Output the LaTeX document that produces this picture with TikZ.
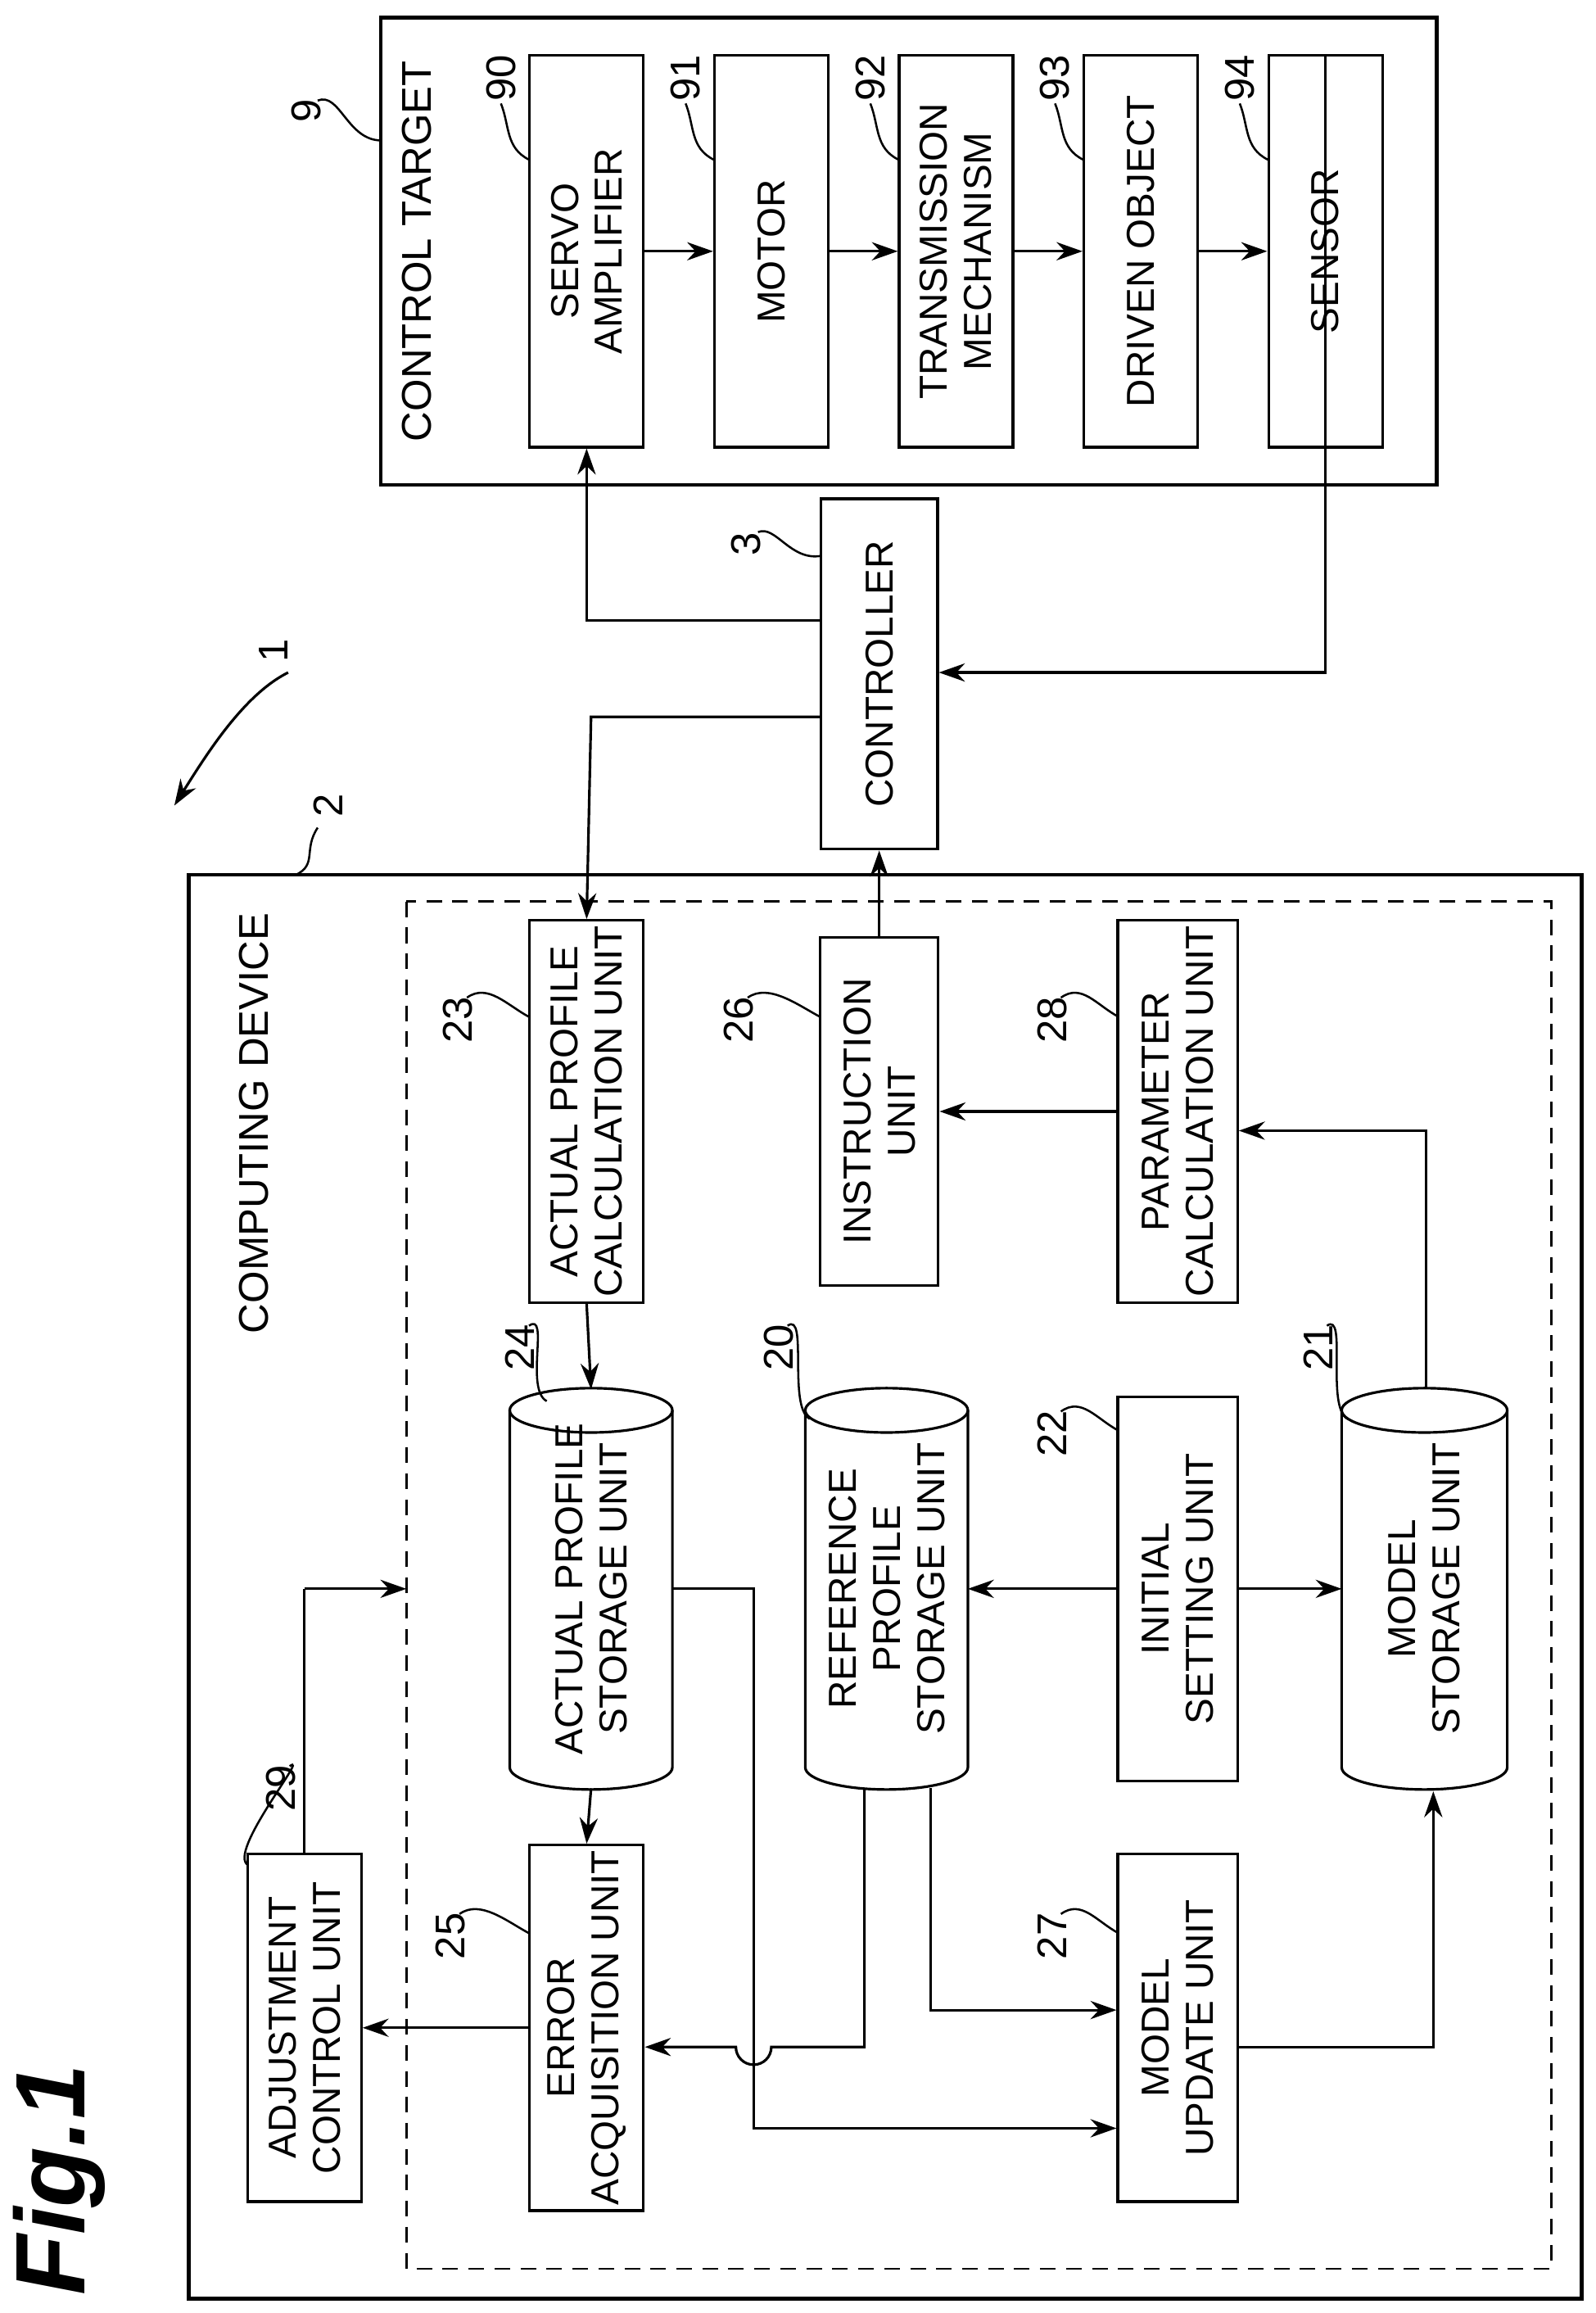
\documentclass[tikz,border=0pt]{standalone}
\usepackage{fontspec}
\setmainfont{Liberation Sans}
\usetikzlibrary{arrows.meta}
\newcommand\mycyl[6]{% name, xc, yc, w(cm), h(cm), text
 \node[rotate=90,align=center,font=\fontsize{7.5}{8.5}\selectfont,minimum width=#5cm,minimum height=#4cm,inner sep=0pt] (#1) at (#2,#3) {#6};
 \draw[line width=0.5pt] ([yshift=-0.15cm]#1.east) ellipse [x radius=#4cm/2,y radius=0.15cm];
 \draw[line width=0.5pt] ([xshift=-#4cm/2,yshift=-0.15cm]#1.east) -- ([xshift=-#4cm/2,yshift=0.15cm]#1.west)
   arc[start angle=180,end angle=360,x radius=#4cm/2,y radius=0.15cm] -- ([xshift=#4cm/2,yshift=-0.15cm]#1.east);
}
\begin{document}
\begin{tikzpicture}[x=0.01cm,y=-0.01cm,
 box/.style={draw,rotate=90,align=center,font=\fontsize{7.5}{8.5}\selectfont,inner sep=1pt,line width=0.5pt},
 lab/.style={rotate=90,font=\fontsize{8}{9}\selectfont},
 ar/.style={-{Stealth[length=5pt,width=3.5pt]},line width=0.5pt},
 ln/.style={line width=0.5pt},
 lead/.style={line width=0.4pt}]
\useasboundingbox (0,0) rectangle (1080,1565);
% Fig label
\node[rotate=90,font=\bfseries\itshape\fontsize{19}{21}\selectfont] (fig) at (40,1475) {Fig.1};
% system label 1
\node[lab] (l1) at (185,440) {1};
\coordinate (l1e) at (118,545);
\draw[ar] (195,455) .. controls (165,470) and (140,510) .. (l1e);
% computing device
\node[draw,line width=0.7pt,minimum width=9.42cm,minimum height=9.63cm] (cd) at (599,1073.5) {};
\node[rotate=90,font=\fontsize{8}{9}\selectfont] (cdt) at (172,760) {COMPUTING DEVICE};
\node[lab] (l2) at (222,545) {2};
\draw[lead] (215,560) .. controls (205,575) and (215,585) .. (200,592);
\draw[dash pattern=on 3pt off 2pt,line width=0.4pt] (275,610) rectangle (1050,1535);
% control target
\node[draw,line width=0.7pt,minimum width=7.14cm,minimum height=3.16cm] (ct) at (615,170) {};
\node[rotate=90,font=\fontsize{8}{9}\selectfont] (ctt) at (282,170) {CONTROL TARGET};
\node[lab] (l9) at (207,75) {9};
\draw[lead] (215,68) .. controls (230,62) and (235,95) .. (258,95);
% inner boxes
\foreach \n/\x/\t/\num in {sa/397/{SERVO\\AMPLIFIER}/90, mo/522/{MOTOR}/91, tm/647/{TRANSMISSION\\MECHANISM}/92, dr/772/{DRIVEN OBJECT}/93, se/897/{SENSOR}/94}{
 \node[box,minimum width=2.65cm,minimum height=0.77cm] (\n) at (\x,170) {\t};
 \node[lab] (l\num) at (\x-58,53) {\num};
 \draw[lead] (\x-58,70) .. controls (\x-52,85) and (\x-55,100) .. (\x-39,108);
}
\draw[ar] (sa) -- (mo); \draw[ar] (mo) -- (tm); \draw[ar] (tm) -- (dr); \draw[ar] (dr) -- (se);
% controller
\node[box,minimum width=2.37cm,minimum height=0.79cm] (ctl) at (595,456) {CONTROLLER};
\node[lab] (l3) at (505,368) {3};
\draw[lead] (513,360) .. controls (525,355) and (535,380) .. (556,376);
% computing units
\node[box,minimum width=2.35cm,minimum height=0.77cm] (apc) at (397,752) {ACTUAL PROFILE\\CALCULATION UNIT};
\node[box,minimum width=2.35cm,minimum height=0.80cm] (ins) at (595,752) {INSTRUCTION\\UNIT};
\node[box,minimum width=2.35cm,minimum height=0.81cm] (par) at (797,752) {PARAMETER\\CALCULATION UNIT};
\mycyl{aps}{400}{1075}{1.1}{2.7}{ACTUAL PROFILE\\STORAGE UNIT}
\mycyl{rps}{600}{1075}{1.1}{2.7}{REFERENCE\\PROFILE\\STORAGE UNIT}
\node[box,minimum width=2.6cm,minimum height=0.81cm] (ini) at (797,1075) {INITIAL\\SETTING UNIT};
\mycyl{mst}{964}{1075}{1.12}{2.7}{MODEL\\STORAGE UNIT}
\node[box,minimum width=2.35cm,minimum height=0.77cm] (adj) at (206,1372) {ADJUSTMENT\\CONTROL UNIT};
\node[box,minimum width=2.35cm,minimum height=0.77cm] (err) at (397,1372) {ERROR\\ACQUISITION UNIT};
\node[box,minimum width=2.35cm,minimum height=0.81cm] (mup) at (797,1372) {MODEL\\UPDATE UNIT};
% number labels
\foreach \t/\x/\y/\ex/\ey in {23/310/690/358/688, 26/500/690/555/688, 28/712/690/757/688, 24/352/912/370/948, 20/527/912/548/960, 22/712/970/757/968, 21/892/912/912/960, 29/190/1210/168/1262, 25/305/1310/358/1308, 27/712/1310/757/1308}{
 \node[lab] (n\t) at (\x,\y) {\t};
 \draw[lead] (\x+6,\y-15) .. controls (\x+20,\y-25) and (\ex-15,\ey-8) .. (\ex,\ey);
}
% connections
\draw[ar] (ctl.north|-0,420) -- (397,420) -- (sa.west);
\draw[ar] (se.east) -- (897,455) -- (ctl.south|-0,455);
\draw[ar] (ctl.north|-0,485) -- (400,485) -- (apc.east);
\draw[ar] (ins.east) -- (ctl.west);
\draw[ar] (apc.west) -- (400,940);
\draw[ar] (400,1210) -- (err.east);
\draw[ln] (adj.east) -- (206,1075);
\draw[ar] (206,1075) -- (275,1075);
\draw[ar] (err) -- (adj);
\draw[ar] (455,1075) -- (510,1075) -- (510,1440) -- (mup.north|-0,1440);
\draw[ar] (585,1210) -- (585,1385) -- (522,1385) arc (0:180:12) -- (err.south|-0,1385);
\draw[ar] (630,1210) -- (630,1360) -- (mup.north|-0,1360);
\draw[ar] (mup.south|-0,1385) -- (970,1385) -- (970,1212);
\draw[ar] (ini.north|-0,1075) -- (655,1075);
\draw[ar] (ini.south|-0,1075) -- (908,1075);
\draw[ar] (965,940) -- (965,765) -- (par.south|-0,765);
\draw[ar] (par) -- (ins);
\end{tikzpicture}
\end{document}
